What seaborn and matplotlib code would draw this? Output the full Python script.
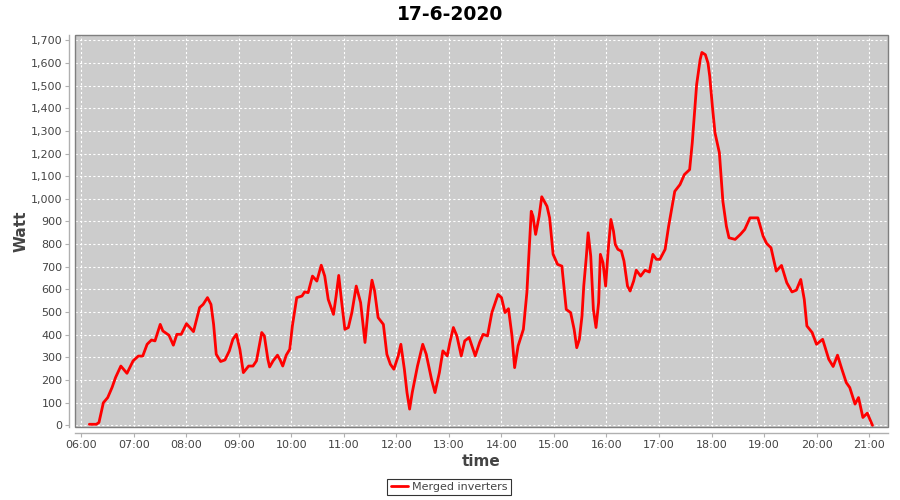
import matplotlib
matplotlib.use("Agg")
import matplotlib.pyplot as plt
import matplotlib.dates as mdates
from matplotlib.ticker import FuncFormatter
from matplotlib.patches import Rectangle
import seaborn as sns
import pandas as pd

title = "17-6-2020"
series_name = "Merged inverters"

times = [
    "06:09", "06:17", "06:20", "06:25", "06:30", "06:35", "06:39", "06:45", "06:52", "06:59",
    "07:05", "07:10", "07:15", "07:20", "07:24", "07:30", "07:33", "07:40", "07:45", "07:49",
    "07:54", "08:00", "08:08", "08:15", "08:19", "08:24", "08:28", "08:31", "08:34", "08:39",
    "08:44", "08:49", "08:53", "08:57", "09:01", "09:05", "09:11", "09:16", "09:20", "09:26",
    "09:29", "09:33", "09:35", "09:39", "09:44", "09:47", "09:50", "09:54", "09:58", "10:01",
    "10:06", "10:12", "10:15", "10:19", "10:24", "10:29", "10:34", "10:38", "10:42", "10:48",
    "10:51", "10:54", "10:57", "11:01", "11:05", "11:09", "11:14", "11:19", "11:24", "11:28",
    "11:32", "11:35", "11:39", "11:45", "11:49", "11:53", "11:57", "12:02", "12:05", "12:09",
    "12:12", "12:15", "12:18", "12:24", "12:30", "12:34", "12:40", "12:44", "12:49", "12:53",
    "12:58", "13:01", "13:05", "13:09", "13:14", "13:18", "13:23", "13:30", "13:35", "13:39",
    "13:44", "13:49", "13:56", "14:00", "14:04", "14:08", "14:12", "14:15", "14:19", "14:25",
    "14:29", "14:32", "14:34", "14:36", "14:39", "14:43", "14:46", "14:52", "14:55", "14:59",
    "15:04", "15:09", "15:14", "15:19", "15:23", "15:26", "15:29", "15:32", "15:34", "15:37",
    "15:39", "15:42", "15:45", "15:48", "15:51", "15:53", "15:56", "15:59", "16:02", "16:05",
    "16:08", "16:10", "16:13", "16:17", "16:20", "16:24", "16:27", "16:31", "16:34", "16:39",
    "16:44", "16:49", "16:53", "16:57", "17:01", "17:07", "17:11", "17:14", "17:18", "17:24",
    "17:29", "17:35", "17:38", "17:43", "17:47", "17:49", "17:53", "17:56", "17:58", "18:01",
    "18:04", "18:09", "18:13", "18:17", "18:20", "18:27", "18:33", "18:38", "18:44", "18:53",
    "18:59", "19:03", "19:08", "19:14", "19:20", "19:26", "19:32", "19:37", "19:42", "19:46",
    "19:49", "19:55", "20:00", "20:07", "20:14", "20:19", "20:24", "20:29", "20:34", "20:38",
    "20:44", "20:48", "20:53", "20:58", "21:04",
]
watts = [
    5, 5, 13, 100, 123, 168, 212, 262, 230, 285,
    306, 306, 358, 377, 373, 446, 417, 398, 354, 402,
    402, 449, 414, 520, 534, 564, 534, 446, 314, 282,
    289, 329, 380, 402, 336, 233, 262, 262, 285, 410,
    395, 292, 258, 285, 310, 289, 262, 310, 336, 439,
    564, 571, 589, 586, 659, 637, 707, 659, 556, 490,
    571, 662, 556, 424, 432, 498, 615, 542, 366, 527,
    641, 593, 476, 446, 314, 270, 248, 307, 358, 248,
    145, 72, 145, 262, 358, 314, 204, 145, 233, 329,
    307, 366, 432, 395, 307, 373, 388, 307, 366, 402,
    395, 498, 578, 564, 498, 515, 395, 255, 351, 424,
    586, 806, 945, 923, 843, 923, 1009, 967, 916, 755,
    711, 703, 512, 498, 424, 343, 380, 483, 615, 747,
    850, 747, 512, 432, 542, 755, 718, 615, 777, 909,
    857, 799, 777, 769, 725, 615, 593, 637, 685, 659,
    685, 677, 755, 733, 733, 777, 879, 945, 1033, 1063,
    1107, 1129, 1247, 1504, 1614, 1646, 1636, 1599, 1540, 1408,
    1291, 1203, 989, 879, 828, 821, 843, 865, 916, 916,
    835, 803, 784, 681, 706, 630, 589, 597, 644, 556,
    439, 410, 358, 380, 292, 260, 310, 248, 189, 167,
    94, 123, 35, 54, 0,
]

hour_ticks = [f"{h:02d}:00" for h in range(6, 22)]
y_ticks = list(range(0, 1800, 100))

day = "2020-06-17 "
df = pd.DataFrame({"time": pd.to_datetime([day + t for t in times]), "Watt": watts})

sns.set_theme(style="white")
plt.rcParams["font.family"] = ["DejaVu Sans"]

fig = plt.figure(figsize=(9, 5), dpi=100)
ax = fig.add_axes([75 / 900, 1 - 427 / 500, (888 - 75) / 900, (427 - 35) / 500])
ax.set_facecolor("#CCCCCC")

sns.lineplot(data=df, x="time", y="Watt", ax=ax, color="#FF0000", linewidth=2.0,
             label=series_name, legend=False)

ax.set_xlim(pd.Timestamp(day + "05:52:36"), pd.Timestamp(day + "21:21:42"))
ax.set_ylim(-7, 1723)
ax.set_xticks(pd.to_datetime([day + t for t in hour_ticks]))
ax.xaxis.set_major_formatter(mdates.DateFormatter("%H:%M"))
ax.set_yticks(y_ticks)
ax.yaxis.set_major_formatter(FuncFormatter(lambda v, p: f"{int(v):,}"))

ax.grid(True, color="white", linestyle=(0, (2, 2)), linewidth=0.8)
ax.set_axisbelow(True)

# plot-area outline
ax.add_patch(Rectangle((0, 0), 1, 1, transform=ax.transAxes, fill=False,
                       edgecolor="#7F7F7F", linewidth=1.0, zorder=5, clip_on=False))

for s in ["top", "right"]:
    ax.spines[s].set_visible(False)
for s in ["left", "bottom"]:
    ax.spines[s].set_position(("outward", 4))
    ax.spines[s].set_color("#B0B0B0")
    ax.spines[s].set_linewidth(1.0)

ax.tick_params(axis="both", which="major", labelsize=8, labelcolor="#444444",
               color="#B0B0B0", length=3, width=0.8, direction="out",
               left=True, bottom=True, pad=2)

ax.set_xlabel("time", fontsize=11, fontweight="bold", color="#444444", labelpad=3)
ax.set_ylabel("Watt", fontsize=11, fontweight="bold", color="#444444", labelpad=2)
fig.suptitle(title, fontsize=13.5, fontweight="bold", color="black", y=0.99, x=0.5)

handles, labels = ax.get_legend_handles_labels()
leg = fig.legend(handles, labels, loc="center", bbox_to_anchor=(449 / 900, 1 - 487 / 500),
                 fontsize=8, frameon=True, fancybox=False, handlelength=1.6,
                 handletextpad=0.3, borderpad=0.3, borderaxespad=0)
leg.get_frame().set_edgecolor("black")
leg.get_frame().set_linewidth(0.8)
for t in leg.get_texts():
    t.set_color("#444444")

fig.savefig("out.png", dpi=100)
